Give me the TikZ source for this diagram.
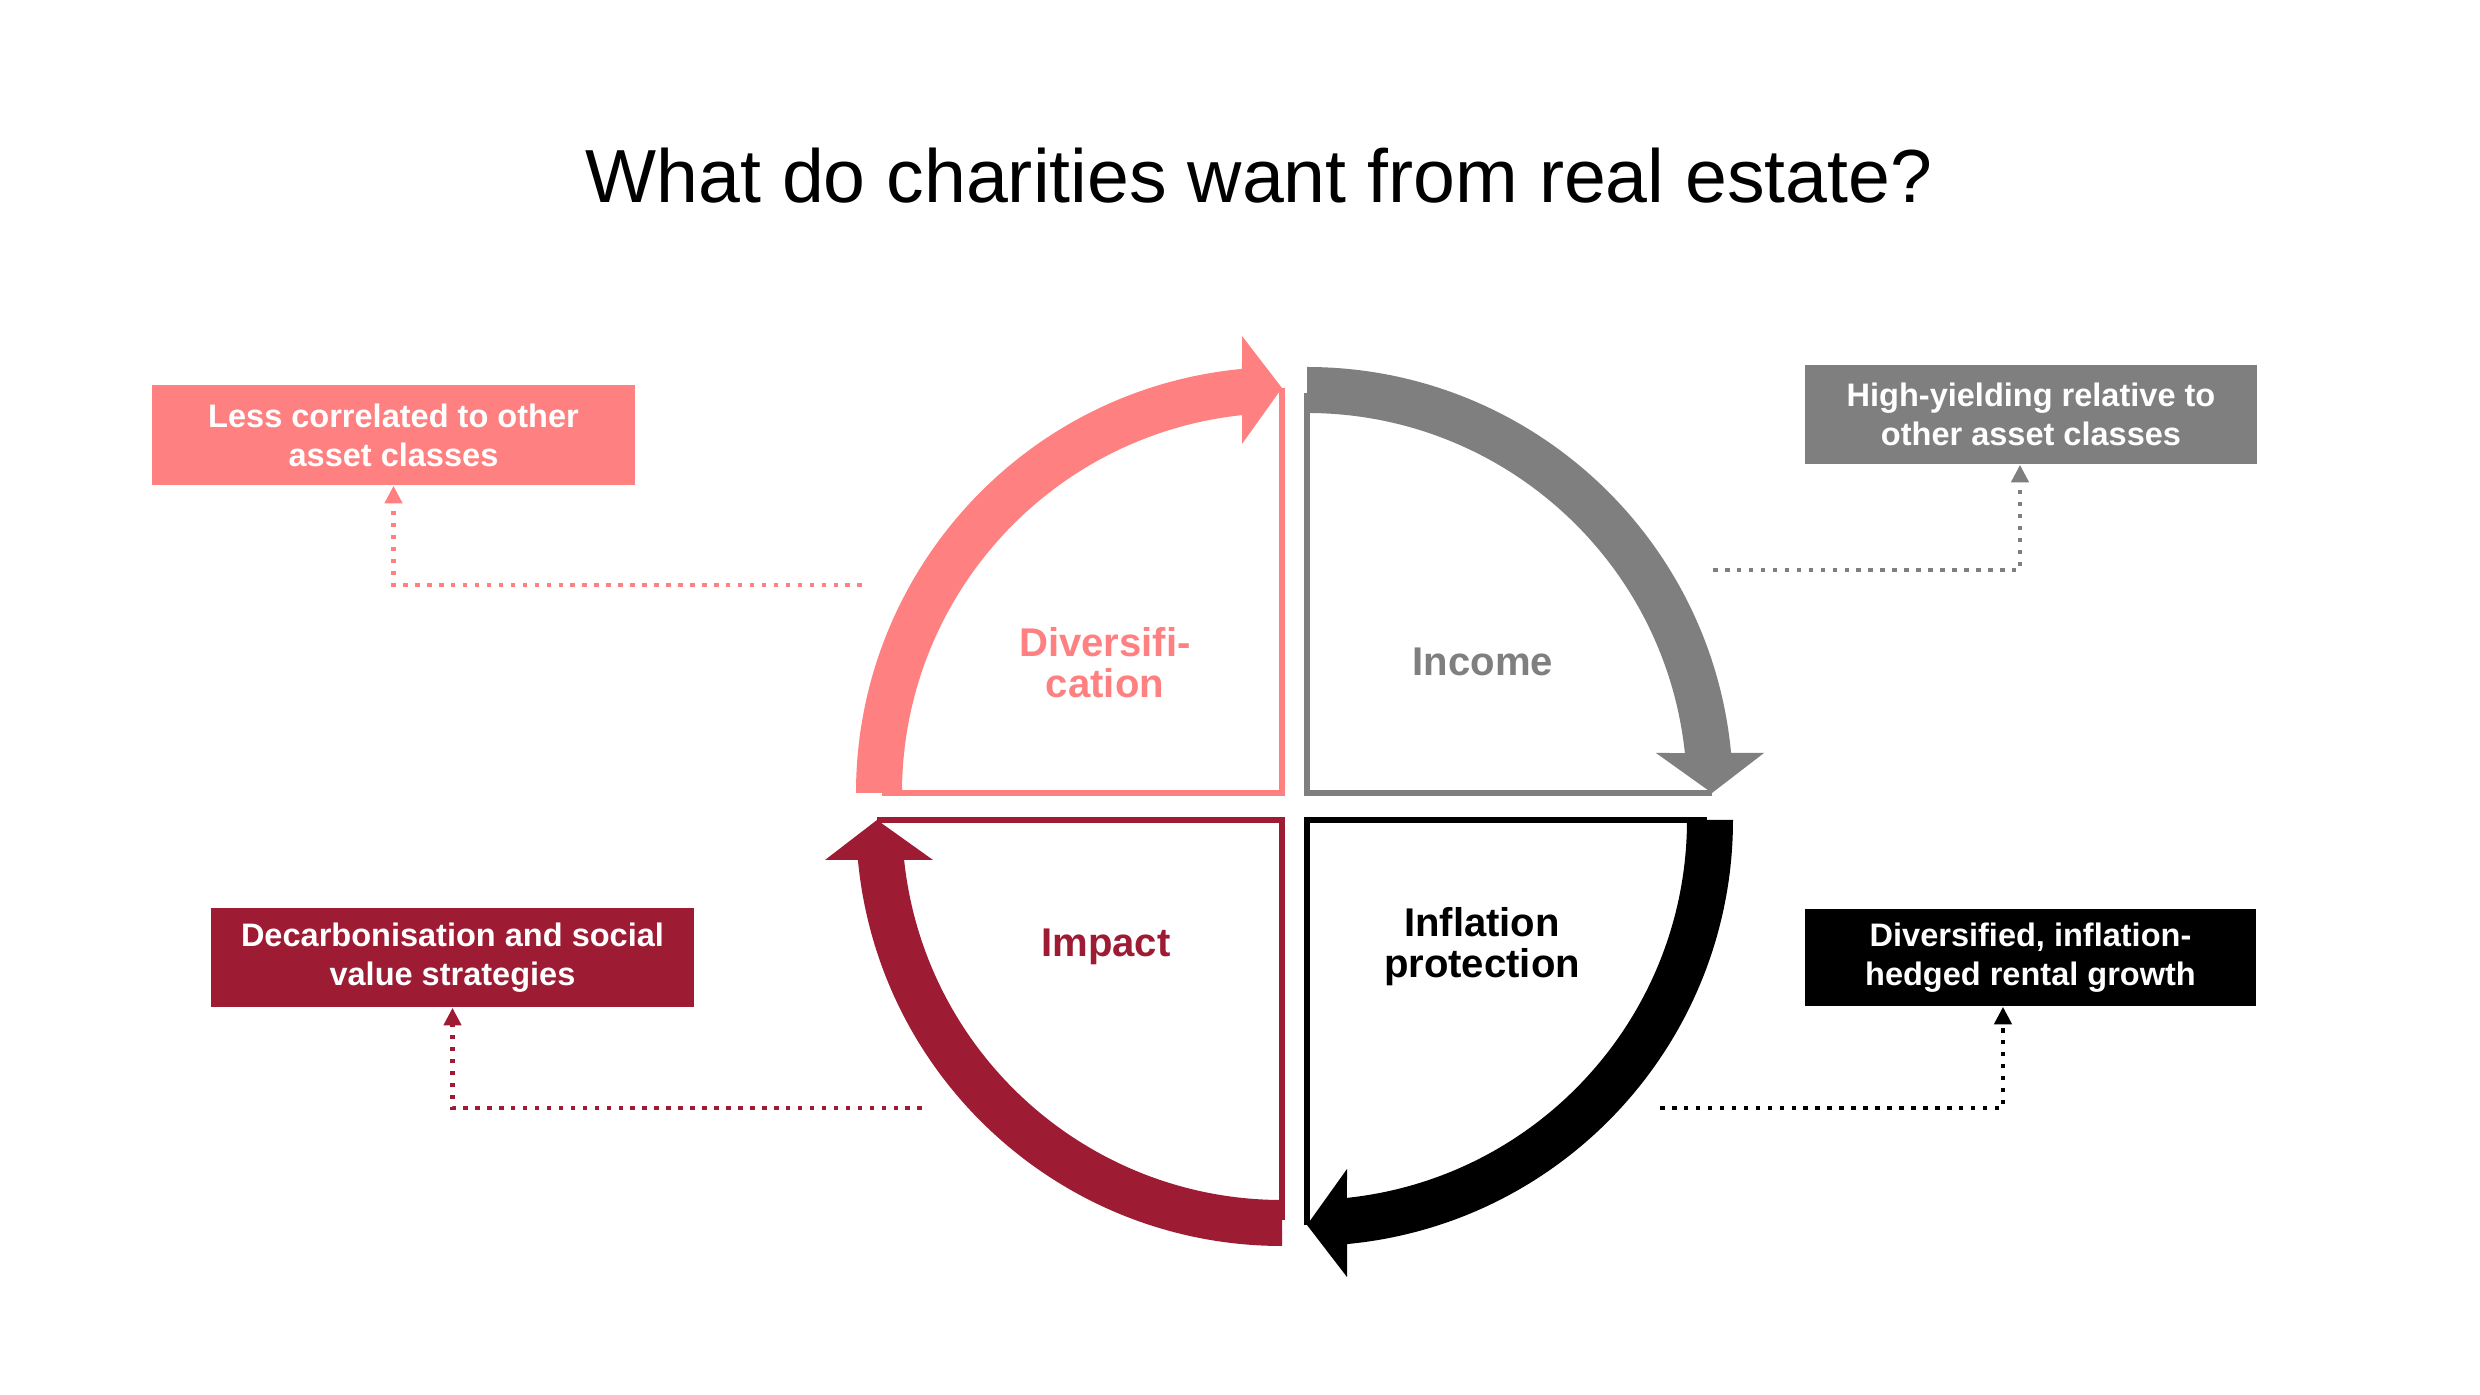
\documentclass[tikz,border=0pt]{standalone}
\usepackage{fontspec}
\setmainfont{Liberation Sans}
\usetikzlibrary{arrows.meta,calc}
\definecolor{pinkc}{HTML}{FF8080}
\definecolor{grayc}{HTML}{7F7F7F}
\definecolor{crimc}{HTML}{9E1B34}
\definecolor{blackc}{HTML}{000000}
\newcommand{\quadshape}[1]{%
  \draw[#1, line width=1.5pt, line join=miter] (0,405) -- (0,0) -- (-400,0);
  \fill[#1] (180:426) arc[start angle=180, end angle=95.39, radius=426]
    -- (-40,457) -- (0,405) -- (-40,349) -- (96.04:380)
    arc[start angle=96.04, end angle=180, radius=380] -- cycle;
}
\tikzset{
  lab/.style={font=\bfseries\fontsize{11.4}{11.7}\selectfont, align=center, inner sep=0pt},
  tbox/.style={font=\bfseries\fontsize{9.25}{11.1}\selectfont, text=white, align=center, inner sep=0pt},
  conn/.style={line width=1.3pt, dash pattern=on 1.3pt off 2.1pt, -{Triangle[width=4.8pt,length=5pt]}},
}
\begin{document}
\begin{tikzpicture}[x=0.01cm,y=0.01cm]
\useasboundingbox (0,0) rectangle (2480,-1395);
\fill[white] (0,0) rectangle (2480,-1395);

\node[font=\fontsize{21.4}{25}\selectfont, anchor=base, inner sep=0pt] (title) at (1259,-203) {What do charities want from real estate?};

\begin{scope}[shift={(1282,-793)}]
  \quadshape{pinkc}
\end{scope}
\begin{scope}[shift={(1307,-793)}, rotate=-90]
  \quadshape{grayc}
\end{scope}
\begin{scope}[shift={(1307,-820)}, rotate=-180]
  \quadshape{blackc}
\end{scope}
\begin{scope}[shift={(1282,-820)}, rotate=90]
  \quadshape{crimc}
\end{scope}

\node[lab, text=pinkc] (divlab) at (1105,-663) {Diversifi-\\cation};
\node[lab, text=grayc] (inclab) at (1483,-662) {Income};
\node[lab, text=crimc] (implab) at (1106,-947) {Impact};
\node[lab, text=blackc] (inflab) at (1482,-947) {Inflation\\protection};

\node[tbox, fill=pinkc, minimum width=4.83cm, minimum height=1cm] (pinkbox) at (393.5,-435) {Less correlated to other\\asset classes};
\node[tbox, fill=grayc, minimum width=4.52cm, minimum height=0.99cm] (graybox) at (2031,-414.5) {High-yielding relative to\\other asset classes};
\node[tbox, fill=crimc, minimum width=4.83cm, minimum height=0.99cm] (crimbox) at (452.5,-957.5) {Decarbonisation and social\\value strategies};
\node[tbox, fill=blackc, minimum width=4.51cm, minimum height=0.97cm] (blackbox) at (2030.5,-957.5) {Diversified, inflation-\\hedged rental growth};

\coordinate (pinkstart) at (862,-585);
\coordinate (graystart) at (1713,-570);
\coordinate (crimstart) at (922,-1108);
\coordinate (blackstart) at (1660,-1108);
\draw[conn, pinkc] (pinkstart) -| (pinkbox.south);
\draw[conn, grayc] (graystart) -| ($(graybox.south)+(-11,0)$);
\draw[conn, crimc] (crimstart) -| (crimbox.south);
\draw[conn, blackc] (blackstart) -| ($(blackbox.south)+(-27.5,0)$);
\end{tikzpicture}
\end{document}
